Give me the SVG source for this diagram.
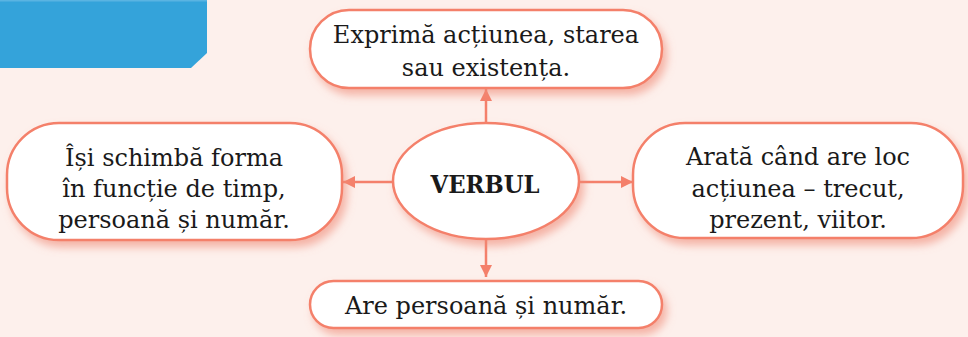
<svg xmlns="http://www.w3.org/2000/svg" width="968" height="337" viewBox="0 0 968 337">
<defs>
<filter id="sh" x="-20%" y="-30%" width="140%" height="170%">
<feDropShadow dx="4" dy="6" stdDeviation="4.5" flood-color="#ef8a76" flood-opacity="0.6"/>
</filter>
<marker id="ah" viewBox="0 0 12 12" refX="12" refY="6" markerWidth="12" markerHeight="12" markerUnits="userSpaceOnUse" orient="auto">
<path d="M0,0 L12,6 L0,12 Z" fill="#f4806b"/>
</marker>
</defs>
<style>
.box{fill:#ffffff;stroke:#f4806b;stroke-width:2.5;}
.t{font-family:"DejaVu Serif","Liberation Serif",serif;font-size:24px;fill:#1a1a1a;text-anchor:middle;}
.c{stroke:#f4806b;stroke-width:2.5;fill:none;}
</style>
<rect width="968" height="337" fill="#fdf0ec"/>
<path d="M0,0 H207 V53 L191,68 H0 Z" fill="#34a3da"/>
<rect x="0" y="0" width="207" height="1.5" fill="#5ab4e2"/>
<g id="connectors">
<line class="c" x1="486" y1="123" x2="486" y2="89" marker-end="url(#ah)"/>
<line class="c" x1="393" y1="182" x2="343" y2="182" marker-end="url(#ah)"/>
<line class="c" x1="579" y1="182" x2="633" y2="182" marker-end="url(#ah)"/>
<line class="c" x1="486" y1="239" x2="486" y2="277" marker-end="url(#ah)"/>
</g>
<g id="top">
<rect class="box" x="310" y="10" width="352" height="78" rx="39" filter="url(#sh)"/>
<text class="t" x="486" y="43">Exprimă acțiunea, starea</text>
<text class="t" x="486" y="76">sau existența.</text>
</g>
<g id="left">
<rect class="box" x="7" y="123" width="335" height="117" rx="52" filter="url(#sh)"/>
<text class="t" x="174" y="166">Își schimbă forma</text>
<text class="t" x="174" y="197">în funcție de timp,</text>
<text class="t" x="174" y="228">persoană și număr.</text>
</g>
<g id="right">
<rect class="box" x="633" y="123" width="330" height="115" rx="52" filter="url(#sh)"/>
<text class="t" x="798" y="165">Arată când are loc</text>
<text class="t" x="798" y="197">acțiunea – trecut,</text>
<text class="t" x="798" y="228">prezent, viitor.</text>
</g>
<g id="center">
<ellipse class="box" cx="486" cy="181" rx="93" ry="58" filter="url(#sh)"/>
<text class="t" x="485" y="193" font-weight="bold" font-size="28" textLength="109" lengthAdjust="spacingAndGlyphs">VERBUL</text>
</g>
<g id="bottom">
<rect class="box" x="310" y="281" width="352" height="47" rx="23.5" filter="url(#sh)"/>
<text class="t" x="486" y="314">Are persoană și număr.</text>
</g>
</svg>
